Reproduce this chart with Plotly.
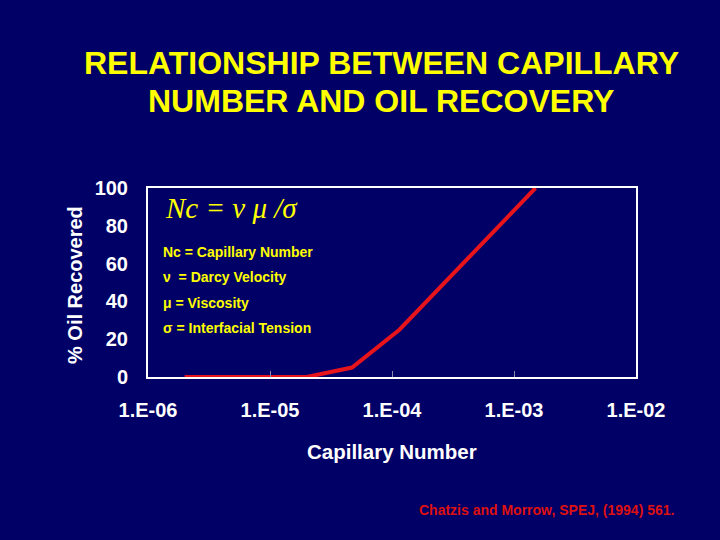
import plotly.graph_objects as go

# capillary number vs % oil recovered
cap_number = [2.0e-6, 2.0e-5, 4.7e-5, 1.15e-4, 1.5e-3]
oil_recovered = [0, 0, 5, 25, 100]

x_tickvals = [1e-6, 1e-5, 1e-4, 1e-3, 1e-2]
x_ticktext = ['1.E-06', '1.E-05', '1.E-04', '1.E-03', '1.E-02']
y_tickvals = [0, 20, 40, 60, 80, 100]

title_lines = ['RELATIONSHIP BETWEEN CAPILLARY', 'NUMBER AND OIL RECOVERY']
legend_lines = ['Nc = Capillary Number', 'ν  = Darcy Velocity', 'μ = Viscosity', 'σ = Interfacial Tension']

bg = '#000066'
yellow = '#ffff00'
sans = 'Liberation Sans, Arial, sans-serif'

fig = go.Figure()
fig.add_trace(go.Scatter(x=cap_number, y=oil_recovered, mode='lines',
                         line=dict(color='#e8141c', width=4), showlegend=False,
                         cliponaxis=False))

fig.update_layout(
    width=720, height=540,
    paper_bgcolor=bg, plot_bgcolor=bg,
    margin=dict(l=148, r=84, t=188, b=163),
    showlegend=False,
)
fig.update_xaxes(type='log', range=[-6, -2], tickvals=x_tickvals, ticktext=x_ticktext,
                 showgrid=False, zeroline=False, showline=True, linecolor='white', linewidth=2,
                 mirror=True, ticks='inside', ticklen=6, tickcolor='#8888aa', tickwidth=1,
                 ticklabelstandoff=14,
                 tickfont=dict(family=sans, size=20, color='white', weight='bold'))
fig.update_yaxes(range=[0, 100], tickvals=y_tickvals,
                 showgrid=False, zeroline=False, showline=True, linecolor='white', linewidth=2,
                 mirror=True, ticks='', ticklabelstandoff=14,
                 tickfont=dict(family=sans, size=20, color='white', weight='bold'))

# title, one annotation per line to match the slide's line spacing
for i, line in enumerate(title_lines):
    fig.add_annotation(text=line, xref='paper', yref='paper',
                       x=(381 - 148) / 488, y=(377 - (63 + i * 38)) / 189,
                       xanchor='center', yanchor='middle', showarrow=False,
                       font=dict(family=sans, size=32, color=yellow, weight='bold'))

# axis titles
fig.add_annotation(text='Capillary Number', xref='paper', yref='paper',
                   x=(392 - 148) / 488, y=(377 - 451) / 189, xanchor='center', yanchor='middle',
                   showarrow=False, font=dict(family=sans, size=20.5, color='white', weight='bold'))
fig.add_annotation(text='% Oil Recovered', xref='paper', yref='paper', textangle=-90,
                   x=(75 - 148) / 488, y=(377 - 285) / 189, xanchor='center', yanchor='middle',
                   showarrow=False, font=dict(family=sans, size=20, color='white', weight='bold'))

# equation and definitions
fig.add_annotation(text='Nc = ν μ /σ', xref='paper', yref='paper',
                   x=(163 - 148) / 488, y=(377 - 208) / 189, xanchor='left', yanchor='middle',
                   showarrow=False,
                   font=dict(family='Liberation Serif, Times New Roman, serif', size=29,
                             color=yellow, style='italic'))
for i, line in enumerate(legend_lines):
    fig.add_annotation(text=line, xref='paper', yref='paper',
                       x=(161 - 148) / 488, y=(377 - (252 + i * 25.3)) / 189,
                       xanchor='left', yanchor='middle', showarrow=False,
                       font=dict(family=sans, size=14, color=yellow, weight='bold'))

# citation
fig.add_annotation(text='Chatzis and Morrow, SPEJ, (1994) 561.', xref='paper', yref='paper',
                   x=(676 - 148) / 488, y=(377 - 510) / 189, xanchor='right', yanchor='middle',
                   showarrow=False, font=dict(family=sans, size=14, color='#dd1111', weight='bold'))

# drop the page margin so the slide fills the window
fig.write_html("out.html", config={'displayModeBar': False},
               post_script="document.body.style.margin='0';")
